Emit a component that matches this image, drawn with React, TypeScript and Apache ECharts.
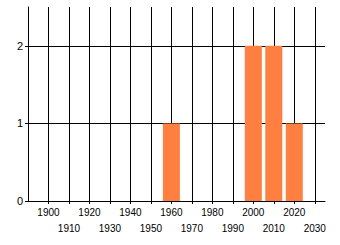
import React, { useEffect, useRef } from "react";
import * as echarts from "echarts";

const years = [1960, 2000, 2010, 2020];
const counts = [1, 2, 2, 1];
const xMin = 1890;
const xMax = 2035;
const yMax = 2.5;

export default function App() {
  const ref = useRef<HTMLDivElement>(null);
  useEffect(() => {
    const chart = echarts.init(ref.current!, null, { renderer: "svg" });
    const font = "Liberation Sans";
    chart.setOption({
      animation: false,
      grid: { left: 28, right: 15, top: 7, bottom: 44 },
      xAxis: {
        type: "value",
        min: xMin,
        max: xMax,
        interval: 10,
        axisLine: { show: true, lineStyle: { color: "#000", width: 1 } },
        axisTick: { show: true, length: 3, lineStyle: { color: "#000" } },
        splitLine: { show: true, showMinLine: false, showMaxLine: false, lineStyle: { color: "#000", width: 1 } },
        axisLabel: {
          showMinLabel: false,
          showMaxLabel: false,
          color: "#000",
          fontFamily: font,
          fontSize: 10,
          lineHeight: 16,
          margin: 3,
          formatter: (v: number) => {
            if (v < 1900 || v > 2030) return "";
            const idx = Math.round((v - 1900) / 10);
            return idx % 2 === 0 ? String(v) : "\n" + String(v);
          },
        },
      },
      yAxis: {
        type: "value",
        min: 0,
        max: yMax,
        interval: 1,
        axisLine: { show: true, lineStyle: { color: "#000", width: 1 } },
        axisTick: { show: true, length: 3, lineStyle: { color: "#000" } },
        splitLine: { show: true, showMaxLine: false, lineStyle: { color: "#000", width: 1 } },
        axisLabel: {
          showMaxLabel: false,
          color: "#000",
          fontFamily: font,
          fontSize: 11,
          margin: 5,
        },
      },
      series: [
        {
          type: "bar",
          data: years.map((y, i) => [y, counts[i]]),
          barWidth: 17,
          itemStyle: { color: "#ff7f40" },
        },
      ],
    });
    return () => chart.dispose();
  }, []);
  return <div ref={ref} style={{ width: 340, height: 245, position: "absolute", left: 0, top: 0 }} />;
}
